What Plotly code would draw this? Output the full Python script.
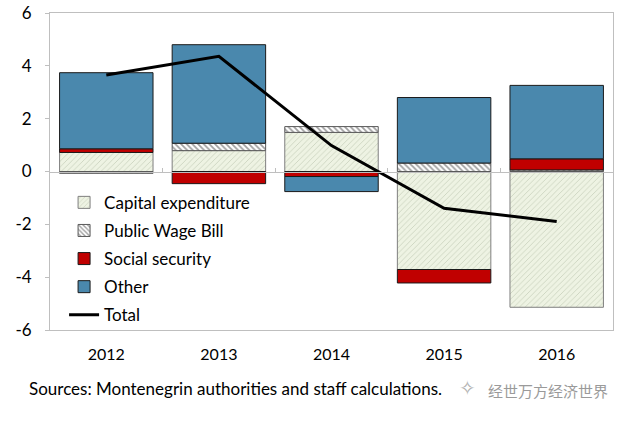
import plotly.graph_objects as go

years = ["2012", "2013", "2014", "2015", "2016"]
capital = [0.72, 0.79, 1.48, -3.71, -5.14]
wage = [-0.07, 0.28, 0.22, 0.32, 0.06]
social = [0.14, -0.46, -0.19, -0.51, 0.42]
other = [2.88, 3.73, -0.57, 2.48, 2.78]
total = [3.65, 4.36, 0.98, -1.39, -1.89]
y_ticks = [-6, -4, -2, 0, 2, 4, 6]
y_tick_labels = ["-6", "-4", "-2", "0", "2", "4", "6"]

FONT = "Lato"
fig = go.Figure()
fig.add_trace(go.Bar(
    x=years, y=capital, name="Capital expenditure", legendgroup="a",
    marker=dict(color="#eef3e3", line=dict(color="#7f7f7f", width=1),
                pattern=dict(shape="/", fgcolor="#a3ad95", bgcolor="#eef3e3", size=4, solidity=0.2)),
))
fig.add_trace(go.Bar(
    x=years, y=wage, name="Public Wage Bill", legendgroup="b",
    marker=dict(color="white", line=dict(color="#595959", width=1),
                pattern=dict(shape="\\", fgcolor="#404040", bgcolor="white", size=4, solidity=0.45)),
))
fig.add_trace(go.Bar(
    x=years, y=social, name="Social security", legendgroup="c",
    marker=dict(color="#c00000", line=dict(color="#1a1a1a", width=1)),
))
fig.add_trace(go.Bar(
    x=years, y=other, name="Other", legendgroup="d",
    marker=dict(color="#4a88ad", line=dict(color="#1a1a1a", width=1)),
))
fig.add_trace(go.Scatter(
    x=years, y=total, name="Total", legendgroup="e", mode="lines",
    line=dict(color="black", width=3),
))
# boundary ticks on the zero line
fig.add_trace(go.Scatter(x=years, y=[None]*5, xaxis="x2", showlegend=False, hoverinfo="skip"))

fig.update_layout(
    width=626, height=421,
    margin=dict(l=50, r=13, t=13, b=91, autoexpand=False),
    paper_bgcolor="white", plot_bgcolor="white",
    barmode="relative", bargap=0.17,
    font=dict(family=FONT, size=16, color="black"),
    showlegend=True,
    legend=dict(x=0.025, y=0.458, xanchor="left", yanchor="top",
                bgcolor="rgba(0,0,0,0)", font=dict(size=17, family=FONT),
                tracegroupgap=3, itemwidth=30),
    xaxis=dict(type="category", showline=True, linecolor="#bfbfbf", mirror=True,
               ticks="", showgrid=False, zeroline=False, tickfont=dict(size=16),
               ticklabelstandoff=10, automargin=False),
    xaxis2=dict(type="category", overlaying="x", matches="x", anchor="free", position=0.5,
                showline=True, linecolor="#bfbfbf", ticks="inside", ticklen=4,
                tickcolor="#bfbfbf", tickson="boundaries", showticklabels=False,
                showgrid=False, zeroline=False, automargin=False),
    yaxis=dict(range=[-6, 6], tickvals=y_ticks, ticktext=y_tick_labels,
               showline=True, linecolor="#bfbfbf",
               mirror=True, ticks="outside", ticklen=4, tickcolor="#bfbfbf",
               showgrid=False, zeroline=False, tickfont=dict(size=17),
               ticklabelstandoff=10, ticklabeloverflow="allow", automargin=False),
    annotations=[
        dict(text="Sources: Montenegrin authorities and staff calculations.",
             xref="paper", yref="paper", x=-0.04, y=-0.145, xanchor="left", yanchor="top",
             showarrow=False, font=dict(size=17, family=FONT)),
        dict(text="经世万方经济世界", xref="paper", yref="paper", x=0.995, y=-0.15,
             xanchor="right", yanchor="top", showarrow=False,
             font=dict(size=15, family="Noto Sans CJK SC", color="#9a9a9a")),
        dict(text="✧", xref="paper", yref="paper", x=0.76, y=-0.14,
             xanchor="right", yanchor="top", showarrow=False,
             font=dict(size=20, family="DejaVu Sans", color="#b0b0b0")),
    ],
)
fig.write_html("out.html", config={"displayModeBar": False},
               post_script="document.body.style.margin='0';")
